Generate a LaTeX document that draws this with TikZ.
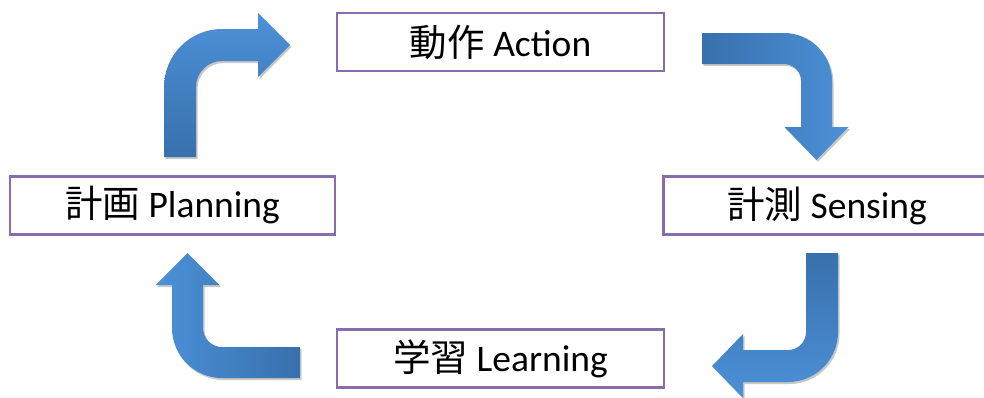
\documentclass[tikz,border=0pt]{standalone}
\usepackage{fontspec}
\setmainfont{Carlito}
\newfontfamily\jpfont{Noto Sans CJK JP}
\usetikzlibrary{shadows}
\definecolor{boxpurple}{RGB}{136,108,172}
\definecolor{arrlight}{RGB}{76,145,216}
\definecolor{arrdark}{RGB}{56,112,172}
\tikzset{
  stagebox/.style={draw=boxpurple, line width=2.4pt, fill=white,
    minimum width=327pt, minimum height=58pt, inner sep=0pt,
    font=\fontsize{37.5}{44}\selectfont},
  bentarrow/.style={draw=none,
    drop shadow={shadow xshift=1.5pt, shadow yshift=-2pt, opacity=0.22, fill=black}}
}
\newcommand{\stagelabel}[2]{\raisebox{-2.5pt}{{\jpfont #1} #2}}
\begin{document}
\begin{tikzpicture}[x=1pt,y=-1pt]
\path[use as bounding box] (0,0) rectangle (984,397);
\clip (0,0) rectangle (984,397);
% boxes
\node[stagebox] (action)   at (500.5,42)    {\stagelabel{動作}{Action}};
\node[stagebox, minimum width=325pt] (planning) at (172.5,205.5) {\stagelabel{計画}{Planning}};
\node[stagebox] (sensing)  at (827,205.5)   {\stagelabel{計測}{Sensing}};
\node[stagebox] (learning) at (500.5,358.5) {\stagelabel{学習}{Learning}};
% arrow Planning -> Action
\path[bentarrow, top color=arrlight, bottom color=arrdark]
  (164,157) -- (164,87) arc[start angle=180, end angle=270, radius=58]
  -- (258,29) -- (258,13) -- (290,45) -- (258,77) -- (258,61) -- (222,61)
  arc[start angle=270, end angle=180, radius=26] -- (196,157) -- cycle;
% arrow Action -> Sensing
\path[bentarrow, left color=arrdark, right color=arrlight]
  (702,33) -- (784,33) arc[start angle=270, end angle=360, radius=48]
  -- (832,127) -- (848.5,127) -- (816.5,160) -- (784.5,127) -- (801,127) -- (801,81)
  arc[start angle=0, end angle=-90, radius=17] -- (702,64) -- cycle;
% arrow Sensing -> Learning
\path[bentarrow, top color=arrdark, bottom color=arrlight]
  (806,253) -- (838,253) -- (838,332) arc[start angle=0, end angle=90, radius=50]
  -- (743,382) -- (743,398) -- (712,366) -- (743,334) -- (743,350) -- (788,350)
  arc[start angle=90, end angle=0, radius=18] -- cycle;
% arrow Learning -> Planning
\path[bentarrow, left color=arrlight, right color=arrdark]
  (300,378) -- (222,378) arc[start angle=90, end angle=180, radius=50]
  -- (172,285) -- (155.5,285) -- (187.5,253) -- (219.5,285) -- (203,285) -- (203,328)
  arc[start angle=180, end angle=90, radius=19] -- (300,347) -- cycle;
\end{tikzpicture}
\end{document}
